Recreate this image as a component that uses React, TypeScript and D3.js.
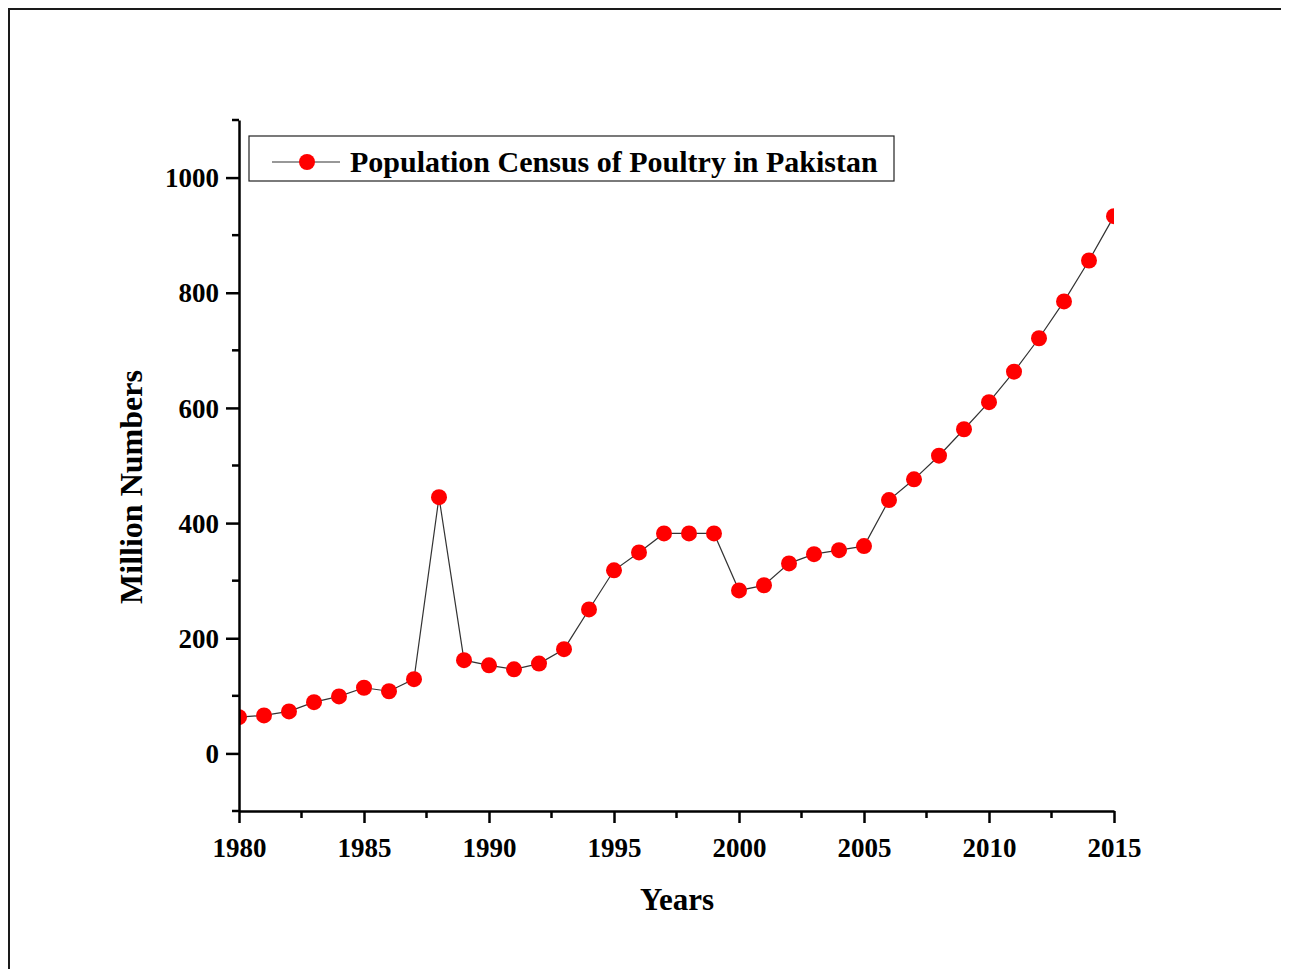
import React, { useEffect, useRef } from "react";
import * as d3 from "d3";

const years = [
  1980, 1981, 1982, 1983, 1984, 1985, 1986, 1987, 1988, 1989, 1990, 1991,
  1992, 1993, 1994, 1995, 1996, 1997, 1998, 1999, 2000, 2001, 2002, 2003,
  2004, 2005, 2006, 2007, 2008, 2009, 2010, 2011, 2012, 2013, 2014, 2015,
];
const poultry = [
  63, 66, 73, 89, 99, 114, 108, 129, 445, 162, 153, 146, 156, 181, 250, 318,
  349, 382, 382, 382, 283, 292, 330, 346, 353, 360, 440, 476, 517, 563, 610,
  663, 721, 785, 856, 933,
];
const xTicks = [1980, 1985, 1990, 1995, 2000, 2005, 2010, 2015];
const xMinorTicks = [1982.5, 1987.5, 1992.5, 1997.5, 2002.5, 2007.5, 2012.5];
const yTicks = [0, 200, 400, 600, 800, 1000];
const yMinorTicks = [-100, 100, 300, 500, 700, 900, 1100];
const seriesName = "Population Census of Poultry in Pakistan";

const W = 1281;
const H = 961;
const FONT = "'Liberation Serif', 'Times New Roman', serif";

const App: React.FC = () => {
  const svgRef = useRef<SVGSVGElement>(null);

  useEffect(() => {
    if (!svgRef.current) return;
    const svg = d3.select(svgRef.current);
    svg.selectAll("*").remove();

    const margin = { top: 112, left: 231, right: W - 1106, bottom: H - 803 };
    const cw = W - margin.left - margin.right;
    const ch = H - margin.top - margin.bottom;

    // outer frame
    svg
      .append("rect")
      .attr("x", 1)
      .attr("y", 1)
      .attr("width", W)
      .attr("height", H + 4)
      .attr("fill", "white")
      .attr("stroke", "#1a1a1a")
      .attr("stroke-width", 2);

    const x = d3.scaleLinear().domain([1980, 2015]).range([0, cw]);
    const y = d3.scaleLinear().domain([-100, 1100]).range([ch, 0]);

    const g = svg
      .append("g")
      .attr("transform", `translate(${margin.left},${margin.top})`);

    g.append("clipPath")
      .attr("id", "plot-clip")
      .append("rect")
      .attr("width", cw)
      .attr("height", ch);

    const plot = g.append("g").attr("clip-path", "url(#plot-clip)");

    const line = d3
      .line<number>()
      .x((_, i) => x(years[i]))
      .y((d) => y(d));

    plot
      .append("path")
      .datum(poultry)
      .attr("d", line)
      .attr("fill", "none")
      .attr("stroke", "#333")
      .attr("stroke-width", 1.2);

    plot
      .selectAll(".dot")
      .data(poultry)
      .enter()
      .append("circle")
      .attr("class", "dot")
      .attr("cx", (_, i) => x(years[i]))
      .attr("cy", (d) => y(d))
      .attr("r", 8)
      .attr("fill", "#ff0000");

    // x axis
    const xAxis = g.append("g").attr("transform", `translate(0,${ch})`);
    xAxis
      .call(
        d3
          .axisBottom(x)
          .tickValues(xTicks)
          .tickSize(12)
          .tickSizeOuter(0)
          .tickFormat((d) => String(d))
      )
      .call((a) => a.select(".domain").attr("stroke-width", 2.5))
      .call((a) => a.selectAll(".tick line").attr("stroke-width", 2.5))
      .call((a) =>
        a
          .selectAll(".tick text")
          .attr("y", 46)
          .attr("dy", 0)
          .style("font-family", FONT)
          .style("font-weight", "bold")
          .style("font-size", "27px")
          .attr("fill", "#000")
      );
    xAxis
      .selectAll(".minor")
      .data(xMinorTicks)
      .enter()
      .append("line")
      .attr("x1", (d) => x(d))
      .attr("x2", (d) => x(d))
      .attr("y1", 0)
      .attr("y2", 7)
      .attr("stroke", "#000")
      .attr("stroke-width", 2.5);

    // y axis
    const yAxis = g.append("g");
    yAxis
      .call(
        d3
          .axisLeft(y)
          .tickValues(yTicks)
          .tickSize(13)
          .tickSizeOuter(0)
          .tickFormat((d) => String(d))
      )
      .call((a) => a.select(".domain").attr("stroke-width", 2.5))
      .call((a) => a.selectAll(".tick line").attr("stroke-width", 2.5))
      .call((a) =>
        a
          .selectAll(".tick text")
          .attr("x", -20)
          .attr("dy", "0.34em")
          .style("font-family", FONT)
          .style("font-weight", "bold")
          .style("font-size", "27px")
          .attr("fill", "#000")
      );
    yAxis
      .selectAll(".minor")
      .data(yMinorTicks)
      .enter()
      .append("line")
      .attr("x1", -7)
      .attr("x2", 0)
      .attr("y1", (d) => y(d))
      .attr("y2", (d) => y(d))
      .attr("stroke", "#000")
      .attr("stroke-width", 2.5);

    // axis titles
    svg
      .append("text")
      .attr("x", 669)
      .attr("y", 902)
      .attr("text-anchor", "middle")
      .style("font-family", FONT)
      .style("font-weight", "bold")
      .style("font-size", "31px")
      .text("Years");

    svg
      .append("text")
      .attr("transform", `translate(134,${479}) rotate(-90)`)
      .attr("text-anchor", "middle")
      .style("font-family", FONT)
      .style("font-weight", "bold")
      .style("font-size", "32px")
      .text("Million Numbers");

    // legend
    const lg = svg.append("g").attr("transform", "translate(241,128)");
    lg.append("rect")
      .attr("width", 645)
      .attr("height", 45)
      .attr("fill", "white")
      .attr("stroke", "#222")
      .attr("stroke-width", 1.2);
    lg.append("line")
      .attr("x1", 23)
      .attr("x2", 91)
      .attr("y1", 26)
      .attr("y2", 26)
      .attr("stroke", "#333")
      .attr("stroke-width", 1.2);
    lg.append("circle")
      .attr("cx", 58)
      .attr("cy", 26)
      .attr("r", 8)
      .attr("fill", "#ff0000");
    lg.append("text")
      .attr("x", 101)
      .attr("y", 36)
      .style("font-family", FONT)
      .style("font-weight", "bold")
      .style("font-size", "30px")
      .text(seriesName);
  }, []);

  return <svg ref={svgRef} width={W} height={H} style={{ display: "block" }} />;
};

export default App;
